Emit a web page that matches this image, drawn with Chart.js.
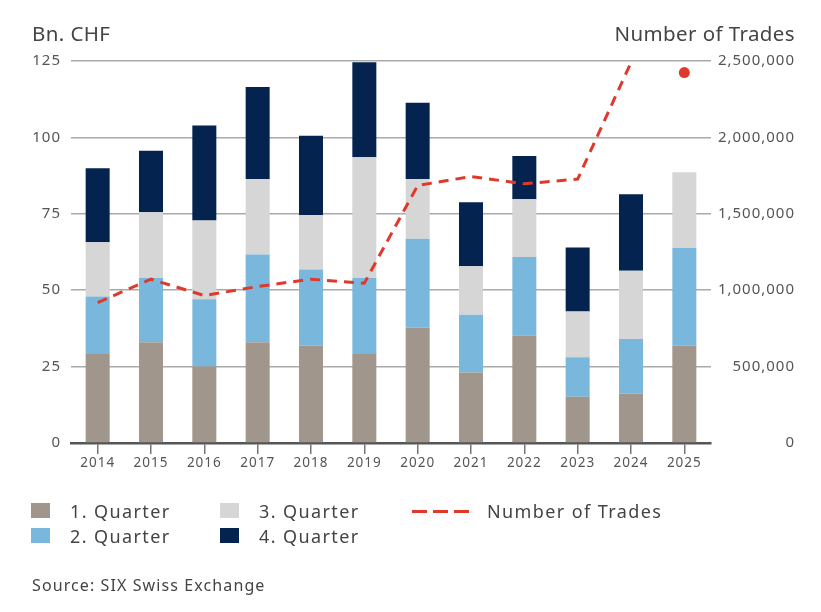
<!DOCTYPE html>
<html>
<head>
<meta charset="utf-8">
<script src="https://cdn.jsdelivr.net/npm/chart.js@4.4.1/dist/chart.umd.min.js"></script>
<style>
  html, body { margin: 0; padding: 0; background: #fff; }
  body { width: 821px; height: 612px; position: relative; overflow: hidden; font-family: "Noto Sans", "Open Sans", sans-serif; color: #444; }
  #wrap { position: absolute; left: 0; top: 0; width: 821px; height: 480px; }
  .title { position: absolute; font-size: 20.5px; line-height: 24px; color: #444; letter-spacing: 0.4px; }
  #legend { position: absolute; left: 0; top: 0; width: 821px; height: 612px; pointer-events: none; }
  .lg { position: absolute; font-size: 18px; line-height: 22px; letter-spacing: 1.4px; color: #444; white-space: nowrap; }
  .sw { position: absolute; }
  #source { position: absolute; left: 32px; top: 574px; font-size: 16px; line-height: 22px; letter-spacing: 1.1px; color: #444; }
</style>
</head>
<body>
<div id="wrap"><canvas id="c"></canvas></div>
<div class="title" style="left:32px; top:21px;">Bn. CHF</div>
<div class="title" style="right:26px; top:21px;">Number of Trades</div>
<div id="legend"></div>
<div id="source">Source: SIX Swiss Exchange</div>
<script>
const years = ['2014','2015','2016','2017','2018','2019','2020','2021','2022','2023','2024','2025'];
const q1 = [29.1, 33.0, 25.0, 33.0, 31.9, 29.1, 37.8, 23.1, 35.1, 15.1, 16.2, 31.9];
const q2 = [18.8, 21.0, 22.0, 28.7, 24.9, 24.9, 29.0, 18.9, 25.8, 13.0, 17.8, 31.9];
const q3 = [17.8, 21.5, 25.8, 24.7, 17.8, 39.5, 19.6, 15.8, 18.9, 14.9, 22.4, 24.8];
const q4 = [24.2, 20.1, 31.1, 30.1, 25.9, 31.1, 24.9, 21.0, 14.1, 21.0, 25.0, null];
const trades = [919000, 1072000, 965000, 1024000, 1072000, 1046000, 1685000, 1744000, 1696000, 1727000, 2490000, 2424000];
const leftTicks = [0, 25, 50, 75, 100, 125];
const rightTicks = [0, 500000, 1000000, 1500000, 2000000, 2500000];

const labels = ['1. Quarter', '2. Quarter', '3. Quarter', '4. Quarter', 'Number of Trades'];
const colors = ['#a0968b', '#7ab7dd', '#d6d6d6', '#05234f', '#e0392b'];

const textColor = '#555';
const font = { family: '"Noto Sans", "Open Sans", sans-serif', size: 15 };

const barDs = [q1, q2, q3, q4].map((d, i) => ({
  type: 'bar',
  label: labels[i],
  data: d,
  backgroundColor: colors[i],
  borderWidth: 0,
  stack: 's',
  yAxisID: 'y',
  order: 1,
  barPercentage: 0.45,
  categoryPercentage: 1.0
}));

const lastIdx = trades.length - 1;
const lineDs = {
  type: 'line',
  label: labels[4],
  data: trades,
  yAxisID: 'y1',
  borderColor: colors[4],
  backgroundColor: colors[4],
  borderWidth: 3,
  borderDash: [10, 7],
  fill: false,
  tension: 0,
  order: 0,
  pointRadius: trades.map((v, i) => i === lastIdx ? 5.5 : 0),
  pointHoverRadius: 0,
  pointBorderWidth: 0,
  segment: {
    borderColor: ctx => ctx.p1DataIndex === lastIdx ? 'rgba(0,0,0,0)' : undefined
  }
};

const spacingPlugin = {
  id: 'spacing',
  beforeDraw: chart => { try { chart.ctx.letterSpacing = '1px'; } catch (e) {} }
};

new Chart(document.getElementById('c'), {
  data: { labels: years, datasets: [...barDs, lineDs] },
  plugins: [spacingPlugin],
  options: {
    responsive: true,
    maintainAspectRatio: false,
    animation: false,
    layout: { padding: { left: 0, right: 26, top: 61, bottom: 0 } },
    plugins: { legend: { display: false }, tooltip: { enabled: false } },
    scales: {
      x: {
        stacked: true,
        grid: { display: true, offset: false, drawOnChartArea: false, drawTicks: true, tickLength: 11, color: '#777', lineWidth: 1.5 },
        border: { display: true, color: '#555', width: 2.5 },
        ticks: { color: textColor, font: { family: font.family, size: 13.5 }, padding: 1, maxRotation: 0 },
        afterFit: s => { s.height = 37; }
      },
      y: {
        position: 'left',
        stacked: true,
        min: 0, max: 125,
        afterBuildTicks: s => { s.ticks = leftTicks.map(v => ({ value: v })); },
        grid: { color: '#aaa', lineWidth: 1.6, drawTicks: false },
        border: { display: false },
        ticks: { color: textColor, font, padding: 10 },
        afterFit: s => { s.width = 71; }
      },
      y1: {
        position: 'right',
        stacked: false,
        min: 0, max: 2500000,
        afterBuildTicks: s => { s.ticks = rightTicks.map(v => ({ value: v })); },
        grid: { display: false, drawTicks: false },
        border: { display: false },
        ticks: { color: textColor, font, crossAlign: 'far', padding: 8, callback: v => Number(v).toLocaleString('en-US') },
        afterFit: s => { s.width = 84; }
      }
    }
  }
});

// Legend built from dataset labels/colors (column-major: 2 rows)
const lg = document.getElementById('legend');
const colX = [31, 220, 412];
const rowY = [511, 536];
labels.forEach((t, i) => {
  const col = Math.floor(i / 2), row = i % 2;
  const x = colX[col], y = rowY[row];
  const sw = document.createElement('div');
  sw.className = 'sw';
  if (i < 4) {
    sw.style.cssText = `left:${x}px; top:${y - 8}px; width:19px; height:15px; background:${colors[i]};`;
  } else {
    sw.style.cssText = `left:${x}px; top:${y - 1.5}px; width:57px; height:3px; background: repeating-linear-gradient(to right, ${colors[i]} 0px, ${colors[i]} 15px, transparent 15px, transparent 21px);`;
  }
  lg.appendChild(sw);
  const tx = document.createElement('div');
  tx.className = 'lg';
  tx.textContent = t;
  tx.style.left = (i < 4 ? x + 39 : x + 75) + 'px';
  tx.style.top = (y - 11) + 'px';
  lg.appendChild(tx);
});
</script>
</body>
</html>
